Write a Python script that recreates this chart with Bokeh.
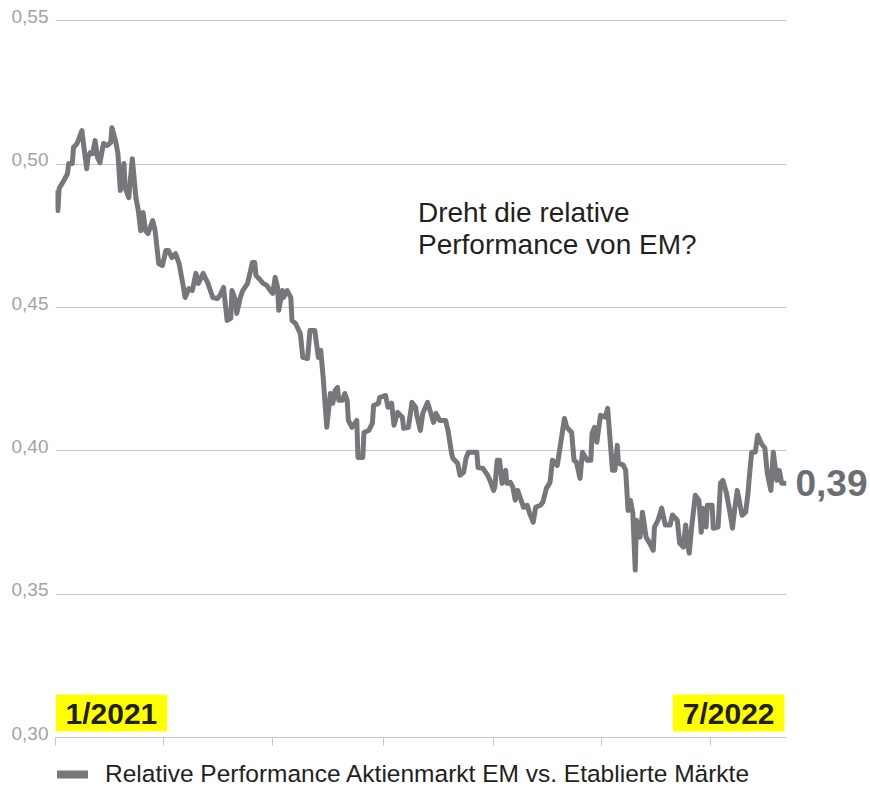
import pandas as pd
from bokeh.plotting import figure
from bokeh.layouts import column
from bokeh.models import (Range1d, FixedTicker, CustomJSTickFormatter, Label,
                          Legend, LegendItem, LinearAxis)
from bokeh.embed import file_html
from bokeh.resources import INLINE

# ---- data (days since 2021-01-01, relative performance EM vs. developed markets)
start_date = "2021-01-01"
days = [0, 2, 3, 7, 10, 11, 14, 15, 18, 22, 23, 26, 27, 29, 31, 33, 35, 37, 40, 43,
        46, 47, 50, 52, 54, 57, 58, 61, 64, 67, 69, 71, 73, 75, 77, 81, 83, 86, 89, 92,
        94, 97, 100, 103, 106, 108, 111, 114, 117, 119, 123, 127, 131, 135, 137, 140, 143, 146, 147, 150,
        151, 154, 156, 160, 162, 164, 166, 167, 171, 173, 176, 179, 181, 183, 185, 186, 189, 190, 193, 196,
        197, 200, 204, 206, 210, 212, 216, 219, 221, 223, 226, 229, 231, 233, 235, 236, 239, 241, 243, 244,
        247, 251, 252, 256, 257, 261, 264, 265, 269, 270, 275, 277, 280, 282, 285, 289, 290, 294, 297, 300,
        301, 304, 306, 310, 312, 315, 317, 320, 325, 327, 330, 331, 335, 337, 340, 342, 344, 347, 351, 352,
        356, 360, 362, 365, 366, 368, 370, 372, 375, 376, 379, 381, 383, 385, 387, 390, 393, 395, 398, 400,
        404, 406, 409, 412, 414, 418, 420, 424, 426, 430, 432, 434, 437, 439, 443, 446, 447, 449, 451, 454,
        458, 460, 464, 466, 468, 469, 473, 475, 477, 479, 481, 483, 484, 487, 489, 492, 495, 498, 499, 502,
        505, 508, 512, 514, 518, 520, 523, 525, 527, 528, 530, 533, 536, 538, 539, 542, 543, 547, 548, 552,
        554, 556, 559, 562, 564, 566, 568, 572, 575, 577, 578, 580, 583, 585, 588, 591, 593, 596, 598, 601,
        603, 605, 609]
values = [0.4908, 0.4838, 0.4915, 0.4943, 0.4967, 0.5002, 0.5002, 0.5058, 0.5072, 0.5117, 0.5082, 0.4984, 0.5023, 0.5040, 0.5037, 0.5082, 0.5023, 0.5005, 0.5072, 0.5065,
          0.5075, 0.5127, 0.5082, 0.5037, 0.4908, 0.5002, 0.4918, 0.4883, 0.5019, 0.4883, 0.4838, 0.4768, 0.4831, 0.4768, 0.4758, 0.4803, 0.4768, 0.4653, 0.4646, 0.4699,
          0.4699, 0.4674, 0.4688, 0.4653, 0.4584, 0.4535, 0.4566, 0.4559, 0.4619, 0.4584, 0.4619, 0.4584, 0.4535, 0.4531, 0.4542, 0.4570, 0.4455, 0.4462, 0.4559, 0.4525,
          0.4479, 0.4535, 0.4559, 0.4584, 0.4619, 0.4657, 0.4657, 0.4612, 0.4594, 0.4584, 0.4577, 0.4559, 0.4549, 0.4605, 0.4570, 0.4490, 0.4559, 0.4535, 0.4559, 0.4535,
          0.4455, 0.4444, 0.4409, 0.4326, 0.4322, 0.4420, 0.4420, 0.4326, 0.4350, 0.4256, 0.4082, 0.4200, 0.4166, 0.4211, 0.4221, 0.4176, 0.4176, 0.4200, 0.4176, 0.4106,
          0.4082, 0.4106, 0.3977, 0.3977, 0.4064, 0.4071, 0.4096, 0.4158, 0.4165, 0.4186, 0.4193, 0.4152, 0.4166, 0.4089, 0.4134, 0.4117, 0.4079, 0.4082, 0.4169, 0.4152,
          0.4124, 0.4071, 0.4131, 0.4169, 0.4141, 0.4099, 0.4131, 0.4106, 0.4106, 0.4071, 0.3991, 0.3974, 0.3957, 0.3915, 0.3925, 0.3974, 0.3995, 0.3995, 0.3995, 0.3942,
          0.3939, 0.3915, 0.3897, 0.3862, 0.3873, 0.3967, 0.3967, 0.3887, 0.3932, 0.3887, 0.3890, 0.3873, 0.3828, 0.3862, 0.3838, 0.3803, 0.3810, 0.3782, 0.3751, 0.3803,
          0.3810, 0.3821, 0.3869, 0.3890, 0.3967, 0.3949, 0.4002, 0.4113, 0.4082, 0.4064, 0.3967, 0.3960, 0.3904, 0.3995, 0.3967, 0.3967, 0.4061, 0.4082, 0.4030, 0.4124,
          0.4117, 0.4148, 0.3932, 0.3932, 0.4019, 0.3957, 0.3950, 0.3932, 0.3792, 0.3827, 0.3782, 0.3584, 0.3758, 0.3699, 0.3786, 0.3699, 0.3678, 0.3653, 0.3734, 0.3758,
          0.3800, 0.3741, 0.3741, 0.3776, 0.3758, 0.3678, 0.3664, 0.3741, 0.3664, 0.3643, 0.3734, 0.3845, 0.3828, 0.3716, 0.3800, 0.3734, 0.3810, 0.3810, 0.3730, 0.3734,
          0.3887, 0.3897, 0.3852, 0.3782, 0.3730, 0.3803, 0.3862, 0.3775, 0.3786, 0.3855, 0.3908, 0.3995, 0.3995, 0.4054, 0.4026, 0.4009, 0.3922, 0.3862, 0.3995, 0.3897,
          0.3932, 0.3887, 0.3887]

y_ticks = [0.30, 0.35, 0.40, 0.45, 0.50, 0.55]
x_tick_dates = ["2021-01-01", "2021-04-01", "2021-07-01", "2021-10-01",
                "2022-01-01", "2022-04-01", "2022-07-01"]
series_label = "Relative Performance Aktienmarkt EM vs. Etablierte Märkte"
start_label = "1/2021"
end_label = "7/2022"
note_text = "Dreht die relative\nPerformance von EM?"

dates = pd.Timestamp(start_date) + pd.to_timedelta(days, unit="D")
t0 = pd.Timestamp(start_date)
t1 = pd.Timestamp(start_date) + pd.Timedelta(days=days[-1])

FONT = "Liberation Sans"
LINE_COLOR = "#76777b"
TICK_FMT = "return tick.toFixed(2).replace('.', ',');"
LABEL_LIFT = 0.0015  # tick labels sit slightly above their gridlines

p = figure(width=870, height=750, x_axis_type="datetime",
           x_range=Range1d(t0, t1), y_range=Range1d(0.30, 0.55 + LABEL_LIFT),
           output_backend="svg", toolbar_location=None,
           min_border_left=55, min_border_right=83, min_border_top=16, min_border_bottom=13)
p.outline_line_color = None

p.line(dates, values, line_width=5, line_color=LINE_COLOR, line_join="round")

# y axis (left)
p.yaxis.ticker = FixedTicker(ticks=[t + LABEL_LIFT for t in y_ticks])
p.yaxis.formatter = CustomJSTickFormatter(code=TICK_FMT)
p.yaxis.axis_line_color = None
p.yaxis.major_tick_line_color = None
p.yaxis.minor_tick_line_color = None
p.yaxis.major_label_text_font = FONT
p.yaxis.major_label_text_font_size = "19px"
p.yaxis.major_label_text_color = "#a3a3a3"
p.yaxis.major_label_standoff = 1

# right axis carrying the last value label
right = LinearAxis(ticker=FixedTicker(ticks=[values[-1]]),
                   formatter=CustomJSTickFormatter(code=TICK_FMT),
                   axis_line_color=None, major_tick_line_color=None, minor_tick_line_color=None,
                   major_tick_out=0, major_tick_in=0, minor_tick_out=0, minor_tick_in=0,
                   major_label_text_font=FONT, major_label_text_font_size="37px",
                   major_label_text_font_style="bold", major_label_text_color="#6d6e71",
                   major_label_standoff=9)
p.add_layout(right, "right")

# x axis
tick_ms = [pd.Timestamp(d).value // 10**6 for d in x_tick_dates]
p.xaxis.ticker = FixedTicker(ticks=tick_ms)
p.xaxis.formatter = CustomJSTickFormatter(code="return '';")
p.xaxis.major_label_text_font_size = "1px"
p.xaxis.major_label_standoff = 0
p.xaxis.axis_line_color = "#c6c6c6"
p.xaxis.major_tick_line_color = "#c6c6c6"
p.xaxis.major_tick_out = 8
p.xaxis.major_tick_in = 0
p.xaxis.minor_tick_line_color = None

p.xgrid.grid_line_color = None
p.ygrid.ticker = FixedTicker(ticks=y_ticks)
p.ygrid.grid_line_color = "#c6c6c6"
p.ygrid.grid_line_width = 1

# date labels
p.add_layout(Label(x=t0, y=0.30, y_offset=6, x_offset=0, text=start_label, text_font=FONT,
                   text_font_size="30px", text_font_style="bold", text_color="#231f20",
                   text_baseline="bottom", text_align="left",
                   background_fill_color="#ffff00", padding=(10, 2)))
p.add_layout(Label(x=t1, y=0.30, y_offset=6, x_offset=-2, text=end_label, text_font=FONT,
                   text_font_size="30px", text_font_style="bold", text_color="#231f20",
                   text_baseline="bottom", text_align="right",
                   background_fill_color="#ffff00", padding=(10, 2)))

# annotation
p.add_layout(Label(x=t0 + pd.Timedelta(days=302), y=0.4885, text=note_text, text_font=FONT,
                   text_font_size="28px", text_color="#231f20", text_baseline="top",
                   text_align="left", text_line_height=1.04))

# legend row (separate strip below the chart)
p2 = figure(width=870, height=37, x_range=Range1d(t0, t1), y_range=Range1d(0, 1),
            x_axis_location=None, y_axis_location=None,
            output_backend="svg", toolbar_location=None,
            min_border_left=0, min_border_right=0, min_border_top=0, min_border_bottom=0)
p2.outline_line_color = None
p2.xgrid.grid_line_color = None
p2.ygrid.grid_line_color = None
swatch = p2.line(dates, [float("nan")] * len(dates), line_width=8, line_color=LINE_COLOR,
                 line_cap="round")
legend = Legend(items=[LegendItem(label=series_label, renderers=[swatch])],
                location=(2, -1), orientation="horizontal", margin=0, padding=0,
                glyph_width=31, glyph_height=20, label_standoff=17, label_height=20,
                border_line_color=None, background_fill_alpha=0,
                label_text_font=FONT, label_text_font_size="24.5px", label_text_color="#231f20")
p2.add_layout(legend)

open("out.html", "w").write(file_html(column(p, p2, spacing=0), INLINE))
